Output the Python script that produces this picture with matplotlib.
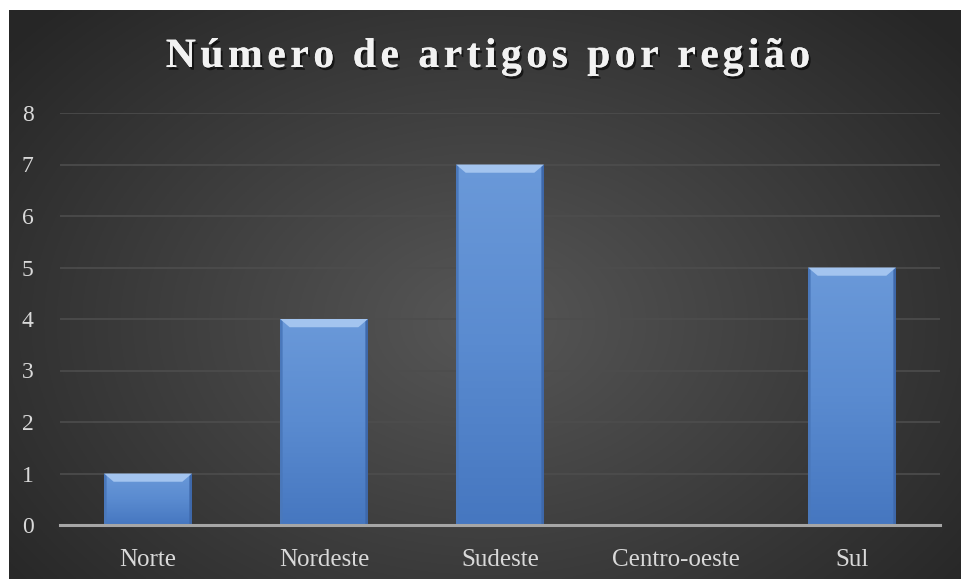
"""
Número de artigos por região - bar chart on a dark gradient card
"""

import numpy as np
import matplotlib
matplotlib.use("Agg")
import matplotlib.pyplot as plt
from matplotlib.patches import Polygon
import matplotlib.patheffects as pe

regioes = ["Norte", "Nordeste", "Sudeste", "Centro-oeste", "Sul"]
artigos = [1, 4, 7, 0, 5]
y_ticks = [0, 1, 2, 3, 4, 5, 6, 7, 8]
titulo = "Número de artigos por região"

plt.rcParams["font.family"] = ["Liberation Serif", "DejaVu Serif"]

W, H = 962, 579
fig = plt.figure(figsize=(W / 100, H / 100), dpi=100)
fig.patch.set_facecolor("white")

# dark card with radial gradient
bg = fig.add_axes([9 / W, 0, 1 - 10 / W, 1 - 10 / H])
bg.set_axis_off()
yy, xx = np.mgrid[0:1:300j, 0:1:500j]
r = np.sqrt(((xx - 0.5) / 0.75) ** 2 + ((yy - 0.55) / 0.9) ** 2)
shade = np.clip(0.34 - 0.22 * r, 0.15, 0.34)
bg.imshow(np.dstack([shade, shade, shade]), aspect="auto",
          extent=[0, 1, 0, 1], origin="upper")
bg.set_xlim(0, 1)
bg.set_ylim(0, 1)

# plot area
ax = fig.add_axes([60 / W, 1 - 525 / H, 880 / W, (525 - 113) / H])
ax.set_facecolor("none")
x = np.arange(len(regioes))
bars = ax.bar(x, artigos, width=0.5, color="#5b8bd0", edgecolor="none", zorder=3)

grad = np.linspace(0, 1, 100).reshape(-1, 1)
cmap = matplotlib.colors.LinearSegmentedColormap.from_list(
    "bar", ["#4677c0", "#5a8bd0", "#6a99d9"])
for b in bars:
    x0, y0 = b.get_x(), b.get_y()
    w, h = b.get_width(), b.get_height()
    if h <= 0:
        continue
    im = ax.imshow(grad, cmap=cmap, aspect="auto", origin="lower",
                   extent=[x0, x0 + w, y0, y0 + h], zorder=3)
    im.set_clip_path(b)
    # bevel: light strip on top, thin darker sides
    bv = 0.16
    dx = w * 0.11
    sd = w * 0.03
    ax.add_patch(Polygon([[x0, y0 + h], [x0 + w, y0 + h],
                          [x0 + w - dx, y0 + h - bv], [x0 + dx, y0 + h - bv]],
                         closed=True, facecolor="#a3c4ef", edgecolor="none",
                         zorder=4))
    ax.add_patch(Polygon([[x0, y0 + h], [x0 + sd, y0 + h - bv * 0.3],
                          [x0 + sd, y0], [x0, y0]],
                         closed=True, facecolor="#4a78bb", edgecolor="none",
                         zorder=4))
    ax.add_patch(Polygon([[x0 + w, y0 + h], [x0 + w - sd, y0 + h - bv * 0.3],
                          [x0 + w - sd, y0], [x0 + w, y0]],
                         closed=True, facecolor="#3e68aa", edgecolor="none",
                         zorder=4))

ax.set_xlim(-0.5, len(regioes) - 0.5)
ax.set_ylim(0, 8)
ax.set_yticks(y_ticks)
ax.set_xticks(x)
ax.set_xticklabels(regioes)
ax.yaxis.grid(True, color="#4d4d4d", linewidth=1.2, zorder=0)
ax.set_axisbelow(True)
for s in ["top", "right", "left"]:
    ax.spines[s].set_visible(False)
ax.spines["bottom"].set_color("#a6a6a6")
ax.spines["bottom"].set_linewidth(2.2)
ax.spines["bottom"].set_zorder(5)
ax.tick_params(axis="both", length=0, colors="#d9d9d9")
ax.tick_params(axis="y", pad=19, labelsize=17)
ax.tick_params(axis="x", pad=17, labelsize=18)

# title with extra letter spacing, drawn char by char
renderer = fig.canvas.get_renderer()
tkw = dict(fontsize=30, fontweight="bold", color="#f2f2f2", va="center",
           path_effects=[pe.withSimplePatchShadow(offset=(1.5, -2),
                                                  shadow_rgbFace="black", alpha=0.6),
                         pe.Normal()])
spacing = 4.5
probe = fig.text(0, 0, titulo, **tkw)
total = probe.get_window_extent(renderer).width + spacing * (len(titulo) - 1)
probe.remove()
left = 488 - total / 2
ty = 1 - 57 / H
for i, ch in enumerate(titulo):
    p = fig.text(0, 0, titulo[:i] + "|", **tkw)
    bar_w = fig.text(0, 0, "|", **tkw)
    off = p.get_window_extent(renderer).width - bar_w.get_window_extent(renderer).width
    p.remove()
    bar_w.remove()
    fig.text((left + off + spacing * i) / W, ty, ch, ha="left", **tkw)

fig.savefig("out.png", dpi=100, facecolor=fig.get_facecolor())
